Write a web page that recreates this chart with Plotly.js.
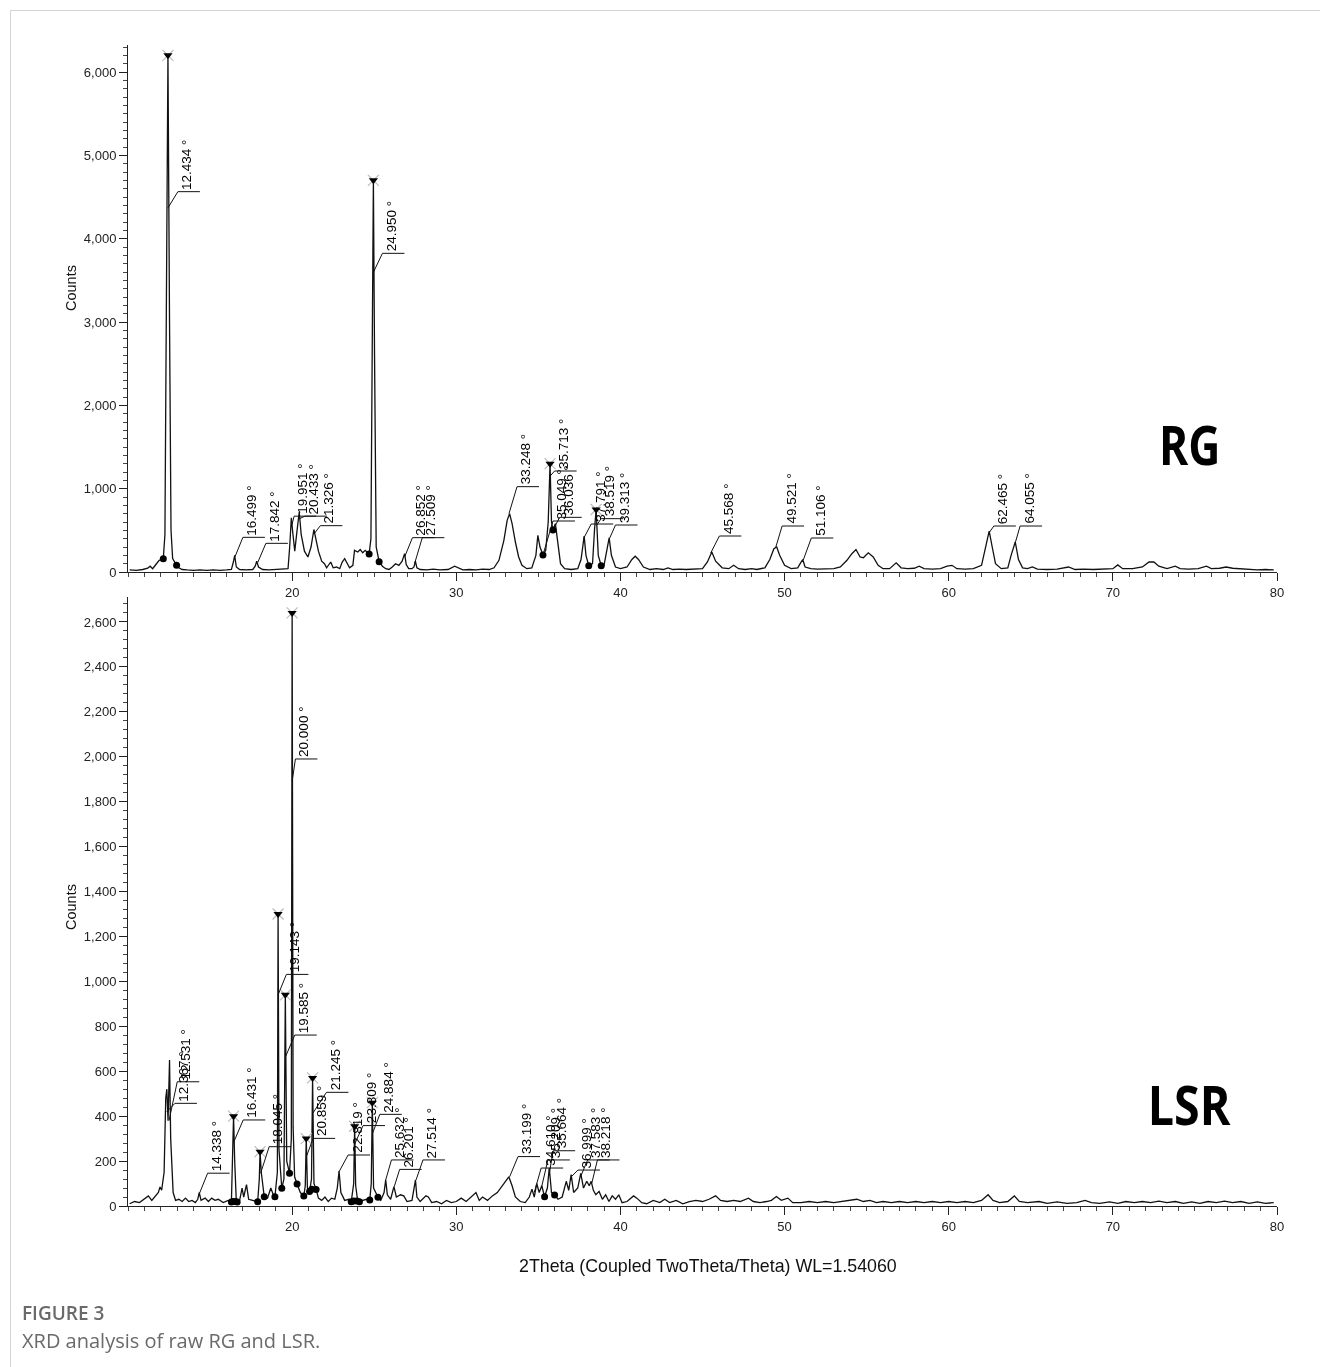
<!DOCTYPE html>
<html>
<head>
<meta charset="utf-8">
<script src="https://cdn.plot.ly/plotly-3.0.1.min.js"></script>
<style>
  html, body { margin:0; padding:0; background:#fff; }
  #wrap { position:relative; width:1320px; height:1367px; }
  #chart { position:absolute; left:0; top:0; width:1320px; height:1367px; will-change: transform; }
  #frame { position:absolute; left:10px; top:10px; width:1320px; height:1367px;
           border-top:1px solid #d4d4d4; border-left:1px solid #d4d4d4; pointer-events:none; }
</style>
</head>
<body>
<div id="wrap"><div id="chart"></div><div id="frame"></div></div>
<script>
// ---------------- DATA ----------------
// RG pattern: 2theta (deg) and counts
const rgTheta = [10.1,10.5,10.9,11.2,11.35,11.5,11.7,11.9,12.05,12.15,12.25,12.33,12.434,12.53,12.62,12.72,12.85,12.96,13.1,13.3,13.6,14.0,14.4,14.8,15.2,15.6,16.0,16.3,16.42,16.499,16.6,16.8,17.2,17.6,17.75,17.842,17.95,18.2,18.6,19.0,19.4,19.75,19.85,19.951,20.05,20.16,20.3,20.433,20.55,20.75,20.96,21.15,21.326,21.45,21.6,21.8,21.97,22.1,22.25,22.35,22.5,22.7,22.9,23.05,23.2,23.35,23.5,23.7,23.8,24.0,24.15,24.3,24.45,24.6,24.69,24.8,24.88,24.95,25.02,25.12,25.3,25.5,25.7,25.9,26.1,26.3,26.5,26.7,26.852,26.95,27.1,27.3,27.42,27.509,27.6,27.8,28.2,28.6,29.0,29.5,29.9,30.1,30.4,30.8,31.2,31.6,32.0,32.3,32.6,32.9,33.1,33.248,33.4,33.6,33.8,34.0,34.3,34.6,34.85,34.97,35.1,35.28,35.45,35.6,35.713,35.8,35.89,36.036,36.2,36.35,36.6,37.0,37.4,37.6,37.791,37.9,38.07,38.3,38.42,38.519,38.65,38.83,39.0,39.15,39.313,39.45,39.7,40.0,40.4,40.7,40.9,41.1,41.4,41.8,42.2,42.6,42.9,43.2,43.6,44.0,44.5,45.0,45.3,45.568,45.8,46.2,46.6,46.9,47.2,47.6,48.0,48.3,48.8,49.1,49.35,49.521,49.7,50.0,50.4,50.8,50.95,51.106,51.25,51.6,52.0,52.5,53.0,53.4,53.8,54.1,54.35,54.6,54.8,55.1,55.4,55.7,56.0,56.4,56.8,57.1,57.5,57.9,58.2,58.5,59.0,59.5,59.9,60.2,60.5,61.0,61.5,62.0,62.25,62.465,62.65,62.85,63.2,63.6,63.8,64.055,64.25,64.5,64.8,65.1,65.4,66.0,66.6,67.3,67.7,68.2,68.8,69.4,70.0,70.3,70.6,71.2,71.8,72.2,72.5,72.8,73.3,73.8,74.1,74.6,75.2,75.7,76.0,76.5,76.9,77.3,77.8,78.3,78.8,79.3,79.8];
const rgCounts = [25,20,30,45,70,40,90,140,150,160,450,3000,6200,3000,500,160,110,80,50,30,25,20,25,20,25,20,25,30,120,200,60,30,25,30,70,130,60,30,25,30,30,40,300,650,450,250,500,720,450,250,180,300,510,380,250,130,100,50,90,120,50,60,40,120,160,100,50,80,260,240,270,230,260,230,216,400,3000,4700,2600,300,124,70,40,30,60,100,80,130,220,90,40,40,60,130,50,30,25,35,25,30,70,50,25,30,25,35,30,50,140,380,620,700,580,360,180,80,40,50,200,440,300,204,260,600,1300,600,504,580,300,100,40,30,40,150,430,200,76,100,500,750,200,76,80,250,410,200,60,40,60,150,190,150,60,30,40,30,50,30,35,30,35,40,120,240,130,50,40,80,40,30,40,30,50,150,280,300,200,80,40,50,100,150,60,40,35,40,40,60,140,220,270,180,170,230,180,80,40,40,110,50,40,45,70,40,35,40,70,80,40,35,40,80,300,490,300,100,40,50,200,360,150,50,40,60,35,30,35,60,30,35,30,35,40,85,40,40,60,120,120,70,40,70,40,35,40,70,40,45,60,45,40,30,25,30,25];

// LSR pattern
const lsrTheta = [10.1,10.4,10.7,11.0,11.24,11.45,11.7,11.85,11.95,12.05,12.2,12.3,12.367,12.44,12.531,12.6,12.75,12.9,13.1,13.3,13.5,13.7,13.9,14.1,14.25,14.338,14.45,14.7,14.9,15.1,15.3,15.5,15.8,16.1,16.3,16.38,16.431,16.5,16.6,16.8,16.95,17.05,17.22,17.35,17.6,17.9,18.0,18.045,18.12,18.3,18.5,18.7,18.85,18.95,19.1,19.143,19.2,19.37,19.5,19.585,19.67,19.84,19.95,20.0,20.06,20.15,20.3,20.5,20.71,20.8,20.859,20.93,21.06,21.18,21.245,21.33,21.46,21.6,21.8,22.0,22.2,22.4,22.6,22.75,22.86,22.97,23.2,23.45,23.6,23.75,23.809,23.87,24.0,24.3,24.55,24.73,24.82,24.884,24.96,25.23,25.4,25.6,25.7,25.8,26.0,26.201,26.35,26.6,26.8,27.0,27.3,27.514,27.6,27.8,28.0,28.15,28.3,28.5,28.8,29.1,29.4,29.7,30.0,30.3,30.6,30.9,31.2,31.4,31.6,31.9,32.2,32.5,32.8,33.0,33.199,33.4,33.6,33.9,34.2,34.45,34.61,34.75,34.9,35.05,35.209,35.38,35.55,35.664,35.8,35.99,36.2,36.45,36.7,36.85,36.999,37.15,37.4,37.583,37.75,37.95,38.1,38.218,38.35,38.5,38.7,38.9,39.1,39.3,39.5,39.7,39.9,40.1,40.4,40.8,41.0,41.3,41.6,42.0,42.4,42.7,43.0,43.4,43.8,44.2,44.6,45.0,45.4,45.8,46.1,46.5,46.9,47.3,47.8,48.1,48.5,48.9,49.2,49.5,49.8,50.2,50.5,51.0,51.5,52.0,52.5,53.0,53.5,54.0,54.4,54.8,55.2,55.6,56.0,56.5,57.0,57.5,58.0,58.5,59.0,59.5,60.0,60.5,61.0,61.5,62.0,62.4,62.7,63.1,63.6,64.0,64.3,64.8,65.5,66.0,66.6,67.2,67.8,68.3,68.7,69.2,69.8,70.3,70.8,71.3,71.8,72.3,72.8,73.3,73.8,74.3,74.8,75.3,75.8,76.3,76.8,77.3,77.8,78.3,78.8,79.3,79.8];
const lsrCounts = [10,20,15,30,45,25,50,60,85,70,150,480,520,380,650,300,60,25,30,20,35,20,25,15,30,60,25,35,20,35,25,30,15,25,18,200,400,200,18,25,80,40,95,30,25,19,120,242,150,41,35,80,50,41,150,1300,250,79,120,940,200,146,300,2640,350,130,98,60,44,90,300,80,64,120,570,100,74,35,25,40,20,35,30,80,155,60,25,30,19,100,355,90,19,25,30,27,100,460,80,39,25,60,116,50,30,86,40,50,45,20,25,116,40,20,35,45,40,15,20,10,25,15,20,35,20,40,60,25,40,25,45,60,90,110,130,90,40,20,15,40,75,40,100,60,90,41,80,170,60,49,30,40,110,70,140,60,80,145,80,110,90,110,70,50,65,30,50,20,45,30,50,15,20,45,35,15,10,25,15,30,15,25,10,20,25,20,30,45,25,20,25,20,35,20,15,20,25,42,25,35,15,15,20,15,20,15,20,25,30,20,25,15,20,15,20,15,20,15,20,15,20,15,20,15,25,50,25,15,20,45,20,15,20,12,18,12,15,25,15,12,18,12,20,15,20,15,22,15,20,12,18,12,20,15,22,15,20,12,18,12,15];

// Peak labels: label value, leader start (x0,y0), leader corner (x1,y1)
const rgLblPos = [12.434,16.499,17.842,19.951,20.433,21.326,24.950,26.852,27.509,33.248,35.049,35.713,36.036,37.791,38.519,39.313,45.568,49.521,51.106,62.465,64.055];
const rgLblX0  = [12.434,16.52,17.9,19.98,20.45,21.34,24.96,26.86,27.47,33.21,35.28,35.713,35.89,37.75,38.55,39.34,45.5,49.45,51.14,62.45,64.05];
const rgLblY0  = [4370,184,112,560,640,460,3600,184,108,700,204,1150,504,400,560,404,228,288,144,468,348];
const rgLblX1  = [13.04,17.0,18.4,20.12,20.78,21.72,25.5,27.33,27.93,33.7,35.89,35.99,36.3,38.22,38.82,39.7,46.03,49.85,51.63,62.75,64.35];
const rgLblY1  = [4564,416,344,670,670,556,3824,412,412,1024,612,1212,656,576,640,564,432,552,408,552,552];

const lsrLblPos = [12.367,12.531,14.338,16.431,18.045,19.143,19.585,20.000,20.859,21.245,22.819,23.809,24.884,25.632,26.201,27.514,33.199,34.610,35.209,35.664,36.999,37.583,38.218];
const lsrLblX0  = [12.36,12.5,14.36,16.45,18.08,19.143,19.6,20.0,20.87,21.26,22.84,23.83,24.9,25.7,26.22,27.55,33.25,34.75,35.2,35.68,37.0,37.6,38.25];
const lsrLblY0  = [420,380,57,286,146,940,665,1890,220,413,150,279,324,116,86,116,130,60,85,150,130,135,100];
const lsrLblX1  = [12.86,13.0,14.85,17.02,18.6,19.65,20.16,20.2,21.28,22.09,23.41,24.32,25.34,26.05,26.55,27.97,33.76,35.17,35.58,35.9,37.41,38.0,38.6];
const lsrLblY1  = [457,553,146,383,264,1031,761,1990,301,506,227,358,408,205,163,205,220,169,205,246,160,205,205];

// Peak-top markers (triangles) and peak-limit dots
const rgTopX = [12.434,24.950,35.713,38.519];
const rgTopY = [6200,4700,1300,750];
const lsrTopX = [16.431,18.045,19.143,19.585,20.000,20.859,21.245,23.809,24.884];
const lsrTopY = [400,242,1300,940,2640,300,570,355,460];
const rgDotX = [12.15,12.96,24.69,25.3,35.28,35.89,38.07,38.83];
const rgDotY = [160,80,216,124,204,504,76,76];
const lsrDotX = [16.3,16.4,16.55,16.65,17.9,18.3,18.95,19.37,19.84,20.3,20.71,21.06,21.2,21.46,23.6,23.75,23.95,24.1,24.73,25.23,35.38,35.99];
const lsrDotY = [18,20,20,18,19,41,41,79,146,98,44,64,75,74,19,22,22,19,27,39,41,49];

const xTicks = [20,30,40,50,60,70,80];
const panelNames = ['RG','LSR'];
const xTitle = '2Theta (Coupled TwoTheta/Theta) WL=1.54060';
const yTitle = 'Counts';
const figLabel = 'FIGURE 3';
const caption = 'XRD analysis of raw RG and LSR.';

// ---------------- LAYOUT GEOMETRY (pixels) ----------------
const W = 1320, H = 1367;
const L = 128, R = 1277, T = 45, B = 1206;
const plotW = R - L, plotH = B - T;
const pyToPaper = py => (B - py) / plotH;
const pxToPaper = px => (px - L) / plotW;
const topDom = [pyToPaper(572), 1];
const botDom = [0, pyToPaper(597)];
const xRange = [10, 80];
const rgRange = [0, 6324];
const lsrRange = [0, 2711];
const degPerPx = (xRange[1] - xRange[0]) / plotW;
const hLen = 22 * degPerPx;

const lblFont = {family: 'Liberation Sans, Arial, sans-serif', size: 13.5, color: '#000'};
const tickFont = {family: 'Liberation Sans, Arial, sans-serif', size: 13, color: '#222'};

function fmt(v){ return v.toFixed(3) + ' °'; }

const traces = [];
function addPanel(xa, ya, tx, ty, topX, topY, dotX, dotY){
  traces.push({x: tx, y: ty, xaxis: xa, yaxis: ya, type: 'scatter', mode: 'lines',
    line: {color: '#111', width: 1.3}, hoverinfo: 'skip', showlegend: false});
  traces.push({x: dotX, y: dotY, xaxis: xa, yaxis: ya, type: 'scatter', mode: 'markers',
    marker: {symbol: 'circle', size: 7, color: '#000'}, showlegend: false});
  traces.push({x: topX, y: topY, xaxis: xa, yaxis: ya, type: 'scatter', mode: 'markers',
    marker: {symbol: 'x-thin-open', size: 11, color: '#bdbdbd', line: {color: '#bdbdbd', width: 1.2}}, showlegend: false});
  traces.push({x: topX, y: topY, xaxis: xa, yaxis: ya, type: 'scatter', mode: 'markers',
    marker: {symbol: 'triangle-down', size: 8, color: '#000'}, showlegend: false});
}
addPanel('x', 'y', rgTheta, rgCounts, rgTopX, rgTopY, rgDotX, rgDotY);
addPanel('x2', 'y2', lsrTheta, lsrCounts, lsrTopX, lsrTopY, lsrDotX, lsrDotY);

const shapes = [];
const annotations = [];
function addLabels(xr, yr, pos, x0, y0, x1, y1){
  for (let i = 0; i < pos.length; i++){
    shapes.push({type: 'path', xref: xr, yref: yr,
      path: `M ${x0[i]},${y0[i]} L ${x1[i]},${y1[i]} L ${x1[i] + hLen},${y1[i]}`,
      line: {color: '#111', width: 1}});
    annotations.push({xref: xr, yref: yr, x: x1[i], y: y1[i], text: fmt(pos[i]),
      showarrow: false, textangle: -90, xanchor: 'left', yanchor: 'bottom',
      xshift: 0, yshift: 1, font: lblFont, borderpad: 0});
  }
}
addLabels('x', 'y', rgLblPos, rgLblX0, rgLblY0, rgLblX1, rgLblY1);
addLabels('x2', 'y2', lsrLblPos, lsrLblX0, lsrLblY0, lsrLblX1, lsrLblY1);

const bigFont = {family: 'Open Sans, Liberation Sans, sans-serif', size: 53, color: '#000', weight: 700};
annotations.push({xref: 'paper', yref: 'paper', x: pxToPaper(1189), y: pyToPaper(444), text: '<b>' + panelNames[0] + '</b>',
  showarrow: false, xanchor: 'center', yanchor: 'middle', font: bigFont});
annotations.push({xref: 'paper', yref: 'paper', x: pxToPaper(1189), y: pyToPaper(1104), text: '<b>' + panelNames[1] + '</b>',
  showarrow: false, xanchor: 'center', yanchor: 'middle', font: bigFont});
// target ink widths of the condensed panel names in the reference (px)
const bigTargetW = {RG: 58, LSR: 78};

const yTitleFont = {family: 'Liberation Sans, Arial, sans-serif', size: 14.5, color: '#111'};
annotations.push({xref: 'paper', yref: 'paper', x: pxToPaper(71), y: pyToPaper(288), text: yTitle,
  showarrow: false, textangle: -90, xanchor: 'center', yanchor: 'middle', font: yTitleFont});
annotations.push({xref: 'paper', yref: 'paper', x: pxToPaper(71), y: pyToPaper(907), text: yTitle,
  showarrow: false, textangle: -90, xanchor: 'center', yanchor: 'middle', font: yTitleFont});
annotations.push({xref: 'paper', yref: 'paper', x: pxToPaper(708), y: pyToPaper(1266), text: xTitle,
  showarrow: false, xanchor: 'center', yanchor: 'middle',
  font: {family: 'Liberation Sans, Arial, sans-serif', size: 17.8, color: '#111'}});
annotations.push({xref: 'paper', yref: 'paper', x: pxToPaper(20), y: pyToPaper(1313), text: figLabel,
  showarrow: false, xanchor: 'left', yanchor: 'middle',
  font: {family: 'Open Sans, sans-serif', size: 19, color: '#6a6a6a', weight: 600}});
annotations.push({xref: 'paper', yref: 'paper', x: pxToPaper(20), y: pyToPaper(1340), text: caption,
  showarrow: false, xanchor: 'left', yanchor: 'middle',
  font: {family: 'Open Sans, sans-serif', size: 20, color: '#6a6a6a'}});

function xAxis(anchor){
  return {anchor: anchor, domain: [0, 1], range: xRange, tickvals: xTicks, ticks: 'outside',
    ticklen: 8, tickwidth: 1, tickcolor: '#222', showline: true, linecolor: '#222', linewidth: 1,
    showgrid: false, zeroline: false, tickfont: tickFont,
    minor: {dtick: 1, tick0: 10, ticks: 'outside', ticklen: 4, tickcolor: '#444', showgrid: false}};
}
function yAxis(anchor, dom, rng, dt, mdt){
  return {anchor: anchor, domain: dom, range: rng, dtick: dt, tick0: 0, tickformat: ',d', ticks: 'outside',
    ticklen: 8, tickwidth: 1, tickcolor: '#222', showline: true, linecolor: '#222', linewidth: 1,
    showgrid: false, zeroline: false, tickfont: tickFont,
    minor: {dtick: mdt, tick0: 0, ticks: 'outside', ticklen: 4, tickcolor: '#444', showgrid: false}};
}

const layout = {
  width: W, height: H,
  margin: {l: L, r: W - R, t: T, b: H - B, pad: 0},
  paper_bgcolor: '#fff', plot_bgcolor: '#fff',
  showlegend: false,
  xaxis: xAxis('y'),
  yaxis: yAxis('x', topDom, rgRange, 1000, 100),
  xaxis2: xAxis('y2'),
  yaxis2: yAxis('x2', botDom, lsrRange, 200, 40),
  shapes: shapes,
  annotations: annotations
};

Plotly.newPlot('chart', traces, layout, {staticPlot: true, displayModeBar: false}).then(gd => {
  // condense the big panel names horizontally, as in the reference
  gd.querySelectorAll('text.annotation-text').forEach(t => {
    const key = t.textContent.trim();
    if (bigTargetW[key]) {
      const bb = t.getBBox();
      const k = bigTargetW[key] / bb.width * 1.06;
      const cx = bb.x + bb.width / 2;
      const prev = t.getAttribute('transform') || '';
      t.setAttribute('transform', `${prev} translate(${cx},0) scale(${k},1) translate(${-cx},0)`);
    }
  });
});
</script>
</body>
</html>
